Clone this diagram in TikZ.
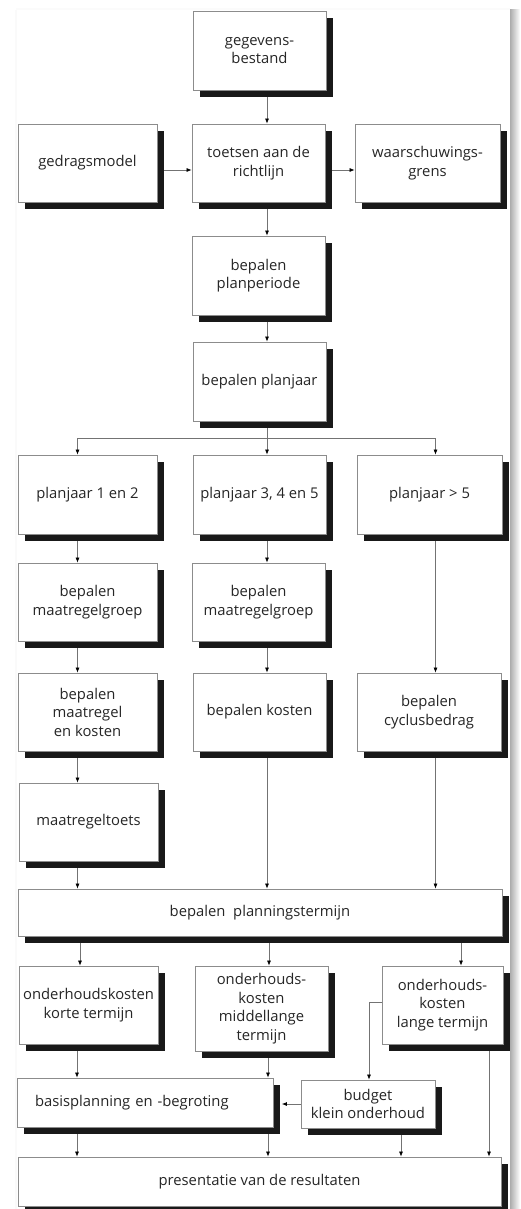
\documentclass[tikz,border=0pt]{standalone}
\usepackage{fontspec}
\setmainfont{Open Sans}
\usetikzlibrary{arrows.meta,shadows,calc,backgrounds}
\definecolor{boxline}{gray}{0.55}
\definecolor{conline}{gray}{0.45}
\definecolor{shadowc}{gray}{0.1}
\definecolor{textc}{gray}{0.15}
\tikzset{
  box/.style={draw=boxline, line width=0.8pt, fill=white, align=center, inner sep=2pt,
    text=textc, font=\fontsize{14.8}{18.5}\selectfont,
    general shadow={fill=shadowc, shadow xshift=7pt, shadow yshift=-7pt}},
  arr/.style={draw=conline, line width=0.7pt, -{Latex[length=5pt,width=4pt,color=black]}},
  plain/.style={draw=conline, line width=0.7pt},
}
\begin{document}
\begin{tikzpicture}[x=1pt,y=-1pt]
\useasboundingbox (0,0) rectangle (520,1209);

% nodes
\node[box, minimum width=133pt, minimum height=79pt] (geg) at (259.5,50.5) {gegevens-\\bestand};
\node[box, minimum width=139pt, minimum height=78pt] (gedrag) at (87.5,163) {gedragsmodel};
\node[box, minimum width=133pt, minimum height=78pt] (toets) at (258.5,163) {toetsen aan de\\richtlijn};
\node[box, minimum width=145pt, minimum height=78pt] (waarsch) at (427.5,163) {waarschuwings-\\grens};
\node[box, minimum width=133pt, minimum height=79pt] (planper) at (258.5,275.5) {bepalen\\planperiode};
\node[box, minimum width=133pt, minimum height=79pt] (planjaar) at (259.5,381.5) {bepalen planjaar};
\node[box, minimum width=139pt, minimum height=79pt] (pj12) at (87.5,494.5) {planjaar 1 en 2};
\node[box, minimum width=133pt, minimum height=79pt] (pj345) at (259.5,494.5) {planjaar 3, 4 en 5};
\node[box, minimum width=145pt, minimum height=79pt] (pj5) at (429.5,494.5) {planjaar > 5};
\node[box, minimum width=139pt, minimum height=78pt] (mg1) at (87.5,602) {bepalen\\maatregelgroep};
\node[box, minimum width=133pt, minimum height=78pt] (mg2) at (258.5,602) {bepalen\\maatregelgroep};
\node[box, minimum width=139pt, minimum height=78pt] (mk1) at (87.5,712) {bepalen\\maatregel\\en kosten};
\node[box, minimum width=133pt, minimum height=78pt] (kost2) at (259.5,712) {bepalen kosten};
\node[box, minimum width=144pt, minimum height=78pt] (cyc3) at (429,712) {bepalen\\cyclusbedrag};
\node[box, minimum width=139pt, minimum height=78pt] (mtoets) at (88.5,822) {maatregeltoets};
\node[box, minimum width=484pt, minimum height=47pt] (pterm) at (260,912.5) {bepalen\ \ planningstermijn};
\node[box, minimum width=139pt, minimum height=78pt] (ok1) at (88.5,1005) {onderhoudskosten\\korte termijn};
\node[box, minimum width=133pt, minimum height=85pt] (ok2) at (261.5,1008.5) {onderhouds-\\kosten\\middellange\\termijn};
\node[box, minimum width=121pt, minimum height=78pt] (ok3) at (442.5,1005) {onderhouds-\\kosten\\lange termijn};
\node[box, minimum width=256pt, minimum height=49pt, text width=220pt, inner xsep=18pt, align=left] (basis) at (145,1102.5) {basisplanning en -begroting};
\node[box, minimum width=134pt, minimum height=48pt] (budget) at (368,1104) {budget\\klein onderhoud};
\node[box, minimum width=483pt, minimum height=49pt] (pres) at (259.5,1181.5) {presentatie van de resultaten};

% helper coordinates
\coordinate (xa) at (77.5,0);
\coordinate (xb) at (267,0);
\coordinate (xc) at (435.5,0);
\coordinate (xd) at (80,0);
\coordinate (xe) at (269,0);
\coordinate (xf) at (461,0);
\coordinate (xg) at (77,0);
\coordinate (xh) at (268,0);
\coordinate (xi) at (401,0);
\coordinate (xj) at (489,0);
\coordinate (xk) at (369,0);
\coordinate (yr) at (0,170);
\coordinate (ybud) at (0,1104);
\coordinate (yk) at (0,1002);
\coordinate (br) at (267,438);

\begin{scope}[on background layer]
% page
\fill[white] (0,0) rectangle (520,1209);
\fill[gray!3] (16,8) rectangle (510,10);
\fill[gray!4] (15,10) rectangle (17,1209);
\shade[left color=gray!65, right color=white] (510,10) rectangle (520,1209);
% connectors
\draw[arr] (geg.south -| xb) -- (toets.north -| xb);
\draw[arr] (gedrag.east |- yr) -- (toets.west |- yr);
\draw[arr] (toets.east |- yr) -- (waarsch.west |- yr);
\draw[arr] (toets.south -| xb) -- (planper.north -| xb);
\draw[arr] (planper.south -| xb) -- (planjaar.north -| xb);
\draw[plain] (planjaar.south -| xb) -- (br);
\draw[arr] (br) -| (pj12.north -| xa);
\draw[arr] (br) -- (pj345.north -| xb);
\draw[arr] (br) -| (pj5.north -| xc);
\draw[arr] (pj12.south -| xa) -- (mg1.north -| xa);
\draw[arr] (pj345.south -| xb) -- (mg2.north -| xb);
\draw[arr] (pj5.south -| xc) -- (cyc3.north -| xc);
\draw[arr] (mg1.south -| xa) -- (mk1.north -| xa);
\draw[arr] (mg2.south -| xb) -- (kost2.north -| xb);
\draw[arr] (mk1.south -| xa) -- (mtoets.north -| xa);
\draw[arr] (mtoets.south -| xa) -- (pterm.north -| xa);
\draw[arr] (kost2.south -| xb) -- (pterm.north -| xb);
\draw[arr] (cyc3.south -| xc) -- (pterm.north -| xc);
\draw[arr] (pterm.south -| xd) -- (ok1.north -| xd);
\draw[arr] (pterm.south -| xe) -- (ok2.north -| xe);
\draw[arr] (pterm.south -| xf) -- (ok3.north -| xf);
\draw[arr] (ok1.south -| xg) -- (basis.north -| xg);
\draw[arr] (ok2.south -| xh) -- (basis.north -| xh);
\draw[arr] (ok3.west |- yk) -| (budget.north -| xk);
\draw[arr] (ok3.south -| xj) -- (pres.north -| xj);
\draw[arr] (budget.west |- ybud) -- ($(basis.east |- ybud)+(8.5,0)$);
\draw[arr] (basis.south -| xg) -- (pres.north -| xg);
\draw[arr] (basis.south -| xh) -- (pres.north -| xh);
\draw[arr] (budget.south -| xi) -- (pres.north -| xi);
\end{scope}
\end{tikzpicture}
\end{document}
